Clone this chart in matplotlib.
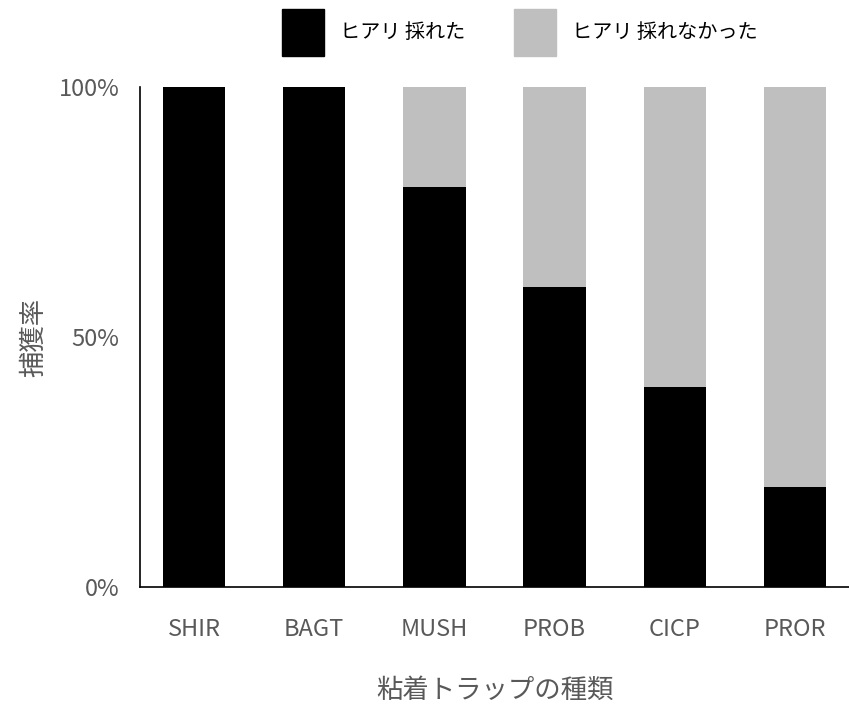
import matplotlib
matplotlib.use("Agg")
import matplotlib.pyplot as plt
from matplotlib.patches import Patch
from matplotlib.ticker import PercentFormatter

plt.rcParams['font.family'] = ['Noto Sans CJK JP', 'DejaVu Sans']

# data
traps = ["SHIR", "BAGT", "MUSH", "PROB", "CICP", "PROR"]
caught = [100, 100, 80, 60, 40, 20]          # ヒアリ 採れた (%)
not_caught = [0, 0, 20, 40, 60, 80]          # ヒアリ 採れなかった (%)
series_names = ["ヒアリ 採れた", "ヒアリ 採れなかった"]
colors = ["#000000", "#bfbfbf"]
text_col = "#595959"

fig = plt.figure(figsize=(8.49, 7.08), dpi=100)
ax = fig.add_axes([140/849, 1 - 587/708, 1 - 140/849, (587 - 87)/708])

x = range(len(traps))
ax.bar(x, caught, width=0.52, color=colors[0])
ax.bar(x, not_caught, width=0.52, bottom=caught, color=colors[1])

ax.set_xlim(-0.45, 5.45)
ax.set_ylim(0, 100)
ax.set_yticks([0, 50, 100])
ax.yaxis.set_major_formatter(PercentFormatter(decimals=0))
ax.set_xticks(list(x))
ax.set_xticklabels(traps)
ax.tick_params(axis='both', length=0, labelsize=17, labelcolor=text_col)
ax.tick_params(axis='x', pad=22)
ax.tick_params(axis='y', pad=15)

for s in ["top", "right"]:
    ax.spines[s].set_visible(False)
for s in ["left", "bottom"]:
    ax.spines[s].set_color("#000000")
    ax.spines[s].set_linewidth(1.2)

ax.set_xlabel("粘着トラップの種類", fontsize=19, color=text_col, labelpad=26)
ax.set_ylabel("捕獲率", fontsize=19, color=text_col, labelpad=8)

handles = [Patch(facecolor=c, edgecolor=c) for c in colors]
fig.legend(handles, series_names, loc="center", bbox_to_anchor=(0.612, 0.954),
           ncol=2, frameon=False, fontsize=14.5, handlelength=2.1, handleheight=3.2,
           handletextpad=0.8, columnspacing=2.4)

fig.savefig("out.png", dpi=100)
